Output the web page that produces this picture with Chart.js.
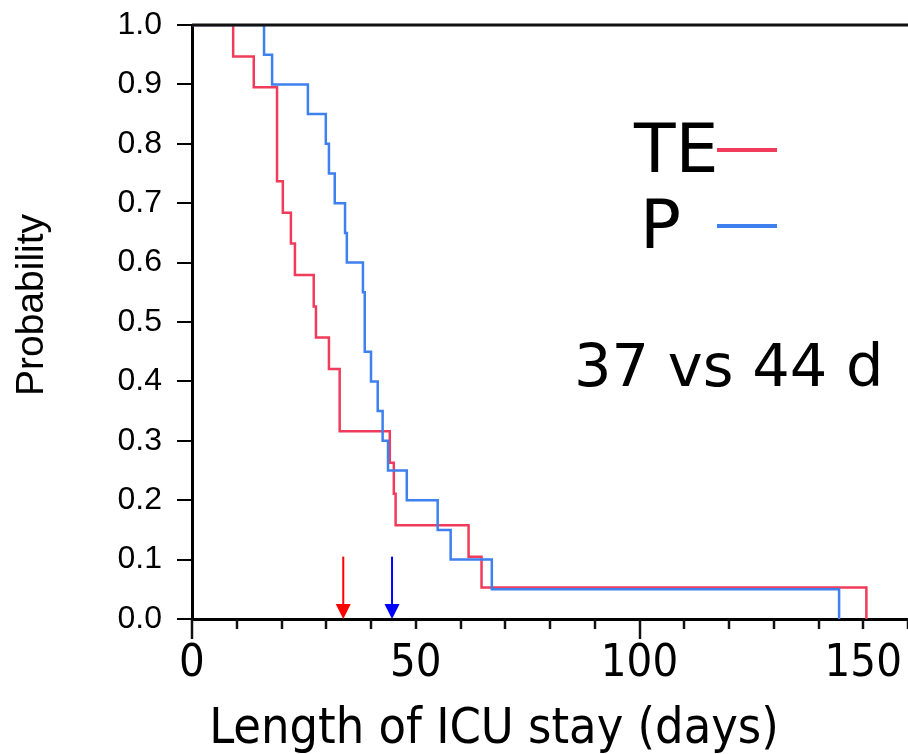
<!DOCTYPE html>
<html>
<head>
<meta charset="utf-8">
<script src="https://cdn.jsdelivr.net/npm/chart.js@4.4.1/dist/chart.umd.min.js"></script>
<style>
    html, body { margin: 0; padding: 0; background: #fff; }
    #wrap { width: 908px; height: 754px; }
</style>
</head>
<body>
<div id="wrap"><canvas id="km-chart" width="908" height="754"></canvas></div>
<script>
// Kaplan-Meier steps (days, probability)
const teDays = [0, 9.2, 13.8, 19.0, 20.3, 22.1, 23.0, 27.2, 27.7, 30.6, 33.0, 44.2, 45.1, 45.5, 61.8, 64.7, 150.7];
const teProb = [1.0, 0.947, 0.895, 0.737, 0.684, 0.632, 0.579, 0.526, 0.474, 0.421, 0.316, 0.263, 0.211, 0.158, 0.105, 0.053, 0];
const pDays = [0, 16.1, 17.9, 25.9, 29.9, 30.6, 31.9, 34.2, 34.6, 38.2, 38.6, 40.0, 41.5, 42.6, 43.8, 48.0, 54.9, 57.8, 67.0, 144.6];
const pProb = [1.0, 0.95, 0.90, 0.85, 0.80, 0.75, 0.70, 0.65, 0.60, 0.55, 0.45, 0.40, 0.35, 0.30, 0.25, 0.20, 0.15, 0.10, 0.05, 0];

// median markers (arrows) and their top value on the y axis
const medianDays = [33.8, 44.7];
const medianColors = ['#ff0000', '#0000ff'];
const arrowTop = 0.105;

const xTickLabels = ['0', '50', '100', '150'];
const seriesNames = ['TE', 'P'];
const seriesColors = ['#f03c5a', '#3d80ee'];
const annotation = '37 vs 44 d';
const yTitle = 'Probability';
const xTitle = 'Length of ICU stay (days)';

const condFont = '"DejaVu Sans Condensed", "DejaVu Sans", sans-serif';
const bigFont = '"DejaVu Sans", sans-serif';
const plainFont = '"Liberation Sans", Arial, sans-serif';

function toPoints(xs, ys) {
    return xs.map((x, i) => ({ x: x, y: ys[i] }));
}

// frame, x ticks, median arrows, titles, legend and annotation text
const extras = {
    id: 'extras',
    afterDatasetsDraw(chart) {
        const ctx = chart.ctx;
        const area = chart.chartArea;
        const xs = chart.scales.x;
        const ys = chart.scales.y;
        ctx.save();

        // top frame line
        ctx.strokeStyle = '#111';
        ctx.lineWidth = 3;
        ctx.beginPath();
        ctx.moveTo(area.left, area.top);
        ctx.lineTo(area.right, area.top);
        ctx.stroke();

        // x ticks, long ones at 0 and 100
        ctx.lineWidth = 2.5;
        for (let v = 0; v <= 160; v += 10) {
            const px = Math.round(xs.getPixelForValue(v));
            const len = (v % 100 === 0) ? 20 : 10;
            ctx.beginPath();
            ctx.moveTo(px, area.bottom);
            ctx.lineTo(px, area.bottom + len);
            ctx.stroke();
        }

        // median arrows
        medianDays.forEach((d, i) => {
            const px = xs.getPixelForValue(d);
            const top = ys.getPixelForValue(arrowTop);
            const bot = ys.getPixelForValue(0);
            ctx.strokeStyle = medianColors[i];
            ctx.fillStyle = medianColors[i];
            ctx.lineWidth = 2;
            ctx.beginPath();
            ctx.moveTo(px, top);
            ctx.lineTo(px, bot - 12);
            ctx.stroke();
            ctx.beginPath();
            ctx.moveTo(px - 7.5, bot - 15);
            ctx.lineTo(px + 7.5, bot - 15);
            ctx.lineTo(px, bot);
            ctx.closePath();
            ctx.fill();
        });

        // y axis title
        ctx.fillStyle = '#000';
        ctx.save();
        ctx.translate(43, 305);
        ctx.rotate(-Math.PI / 2);
        ctx.textAlign = 'center';
        ctx.textBaseline = 'alphabetic';
        ctx.font = '39px ' + plainFont;
        ctx.fillText(yTitle, 0, 0);
        ctx.restore();

        // x axis title
        ctx.textAlign = 'center';
        ctx.textBaseline = 'alphabetic';
        ctx.font = '50px ' + condFont;
        ctx.fillText(xTitle, 494, 743);

        // legend
        ctx.textAlign = 'left';
        ctx.font = '68px ' + bigFont;
        ctx.fillText(seriesNames[0], 634, 172);
        ctx.fillText(seriesNames[1], 640, 248);
        ctx.lineWidth = 4;
        [150, 226].forEach((ly, i) => {
            ctx.strokeStyle = seriesColors[i];
            ctx.beginPath();
            ctx.moveTo(717, ly);
            ctx.lineTo(777, ly);
            ctx.stroke();
        });

        // annotation
        ctx.font = '59px ' + bigFont;
        ctx.fillText(annotation, 574, 386);
        ctx.restore();
    }
};

new Chart(document.getElementById('km-chart').getContext('2d'), {
    type: 'line',
    data: {
        datasets: [
            { label: seriesNames[0], data: toPoints(teDays, teProb), borderColor: seriesColors[0], order: 1 },
            { label: seriesNames[1], data: toPoints(pDays, pProb), borderColor: seriesColors[1], order: 0 }
        ]
    },
    options: {
        responsive: false,
        devicePixelRatio: 1,
        animation: false,
        layout: { padding: { top: 25, right: 0, left: 0, bottom: 0 } },
        elements: {
            line: { stepped: 'before', borderWidth: 2.5, fill: false, tension: 0 },
            point: { radius: 0 }
        },
        plugins: { legend: { display: false }, tooltip: { enabled: false } },
        scales: {
            x: {
                type: 'linear',
                min: 0,
                max: 160,
                afterFit: s => { s.height = 135; s.paddingLeft = 0; s.paddingRight = 0; },
                grid: { display: true, drawOnChartArea: false, drawTicks: false },
                border: { display: true, color: '#000', width: 3 },
                ticks: {
                    stepSize: 10,
                    autoSkip: false,
                    maxRotation: 0,
                    padding: 18,
                    color: '#000',
                    font: { family: condFont, size: 45 },
                    callback: (v) => xTickLabels.includes(String(v)) ? String(v) : ''
                },
                title: { display: false }
            },
            y: {
                min: 0,
                max: 1,
                afterFit: s => { s.width = 192; s.paddingTop = 0; s.paddingBottom = 0; },
                grid: { display: true, drawOnChartArea: false, drawTicks: true, tickLength: 15, color: '#000', lineWidth: 2 },
                border: { display: true, color: '#000', width: 3 },
                ticks: {
                    stepSize: 0.1,
                    padding: 15,
                    color: '#000',
                    font: { family: plainFont, size: 32 },
                    callback: (v) => v.toFixed(1)
                },
                title: { display: false }
            }
        }
    },
    plugins: [extras]
});
</script>
</body>
</html>
